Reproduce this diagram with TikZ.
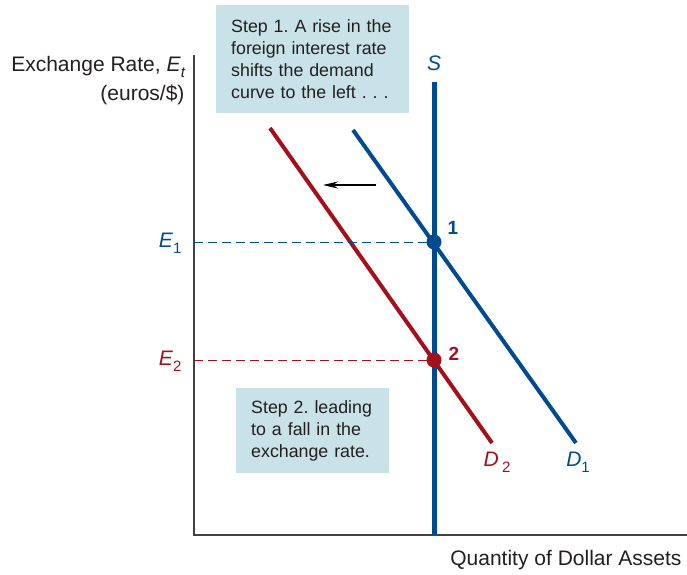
\documentclass[tikz,border=0pt]{standalone}
\usepackage{fontspec}
\setmainfont{Liberation Sans}
\usetikzlibrary{arrows.meta}
\definecolor{dblue}{RGB}{0,75,141}
\definecolor{dred}{RGB}{163,16,27}
\definecolor{boxfill}{RGB}{200,226,231}
\definecolor{txt}{RGB}{35,31,32}
\tikzset{
  stepbox/.style={fill=boxfill, inner xsep=15pt, inner ysep=0pt, align=left,
    font=\fontsize{17.8}{22}\selectfont\frenchspacing, text=txt, anchor=north west},
  axis/.style={line width=1.3pt, draw=txt!85},
  curve/.style={line width=4pt},
  dashline/.style={line width=1pt, dash pattern=on 9pt off 5pt},
  eqpt/.style={circle, inner sep=0pt, minimum size=15pt},
  lbl/.style={font=\fontsize{21}{24}\selectfont},
  numlbl/.style={font=\fontsize{19}{22}\selectfont\bfseries},
}
\newcommand{\sub}[1]{\raisebox{-0.55ex}{\fontsize{15}{16}\selectfont #1}}
\begin{document}
\begin{tikzpicture}[x=1pt,y=-1pt]
\useasboundingbox (0,0) rectangle (687,574);
% boxes
\node[stepbox, minimum width=193pt, minimum height=108pt, text width=163pt] (box1) at (216,5)
  {Step 1. A rise in the\\foreign interest rate\\shifts the demand\\curve to the left . . .};
\node[stepbox, minimum width=153pt, minimum height=85pt, text width=123pt] (box2) at (236,388)
  {Step 2. leading\\to a fall in the\\exchange rate.};
% axes
\coordinate (O) at (194,535);
\coordinate (ytop) at (194,55);
\coordinate (xend) at (687,535);
\draw[axis] (ytop) -- (O) -- (xend);
\node[lbl, anchor=east, text=txt] (ylab1) at (189,67) {Exchange Rate, \textit{E}\sub{\textit{t}}};
\node[lbl, anchor=east, text=txt] (ylab2) at (188,95) {(euros/\$)};
\node[lbl, anchor=east, text=txt] (xlab) at (685,560) {Quantity of Dollar Assets};
% demand curves
\coordinate (d1a) at (353,130);
\coordinate (d1b) at (576,443);
\coordinate (d2a) at (270,128);
\coordinate (d2b) at (492,443);
\draw[curve, dred] (d2a) -- (d2b);
\draw[curve, dblue] (d1a) -- (d1b);
% supply
\coordinate (stop) at (434,82);
\coordinate (sbot) at (434,535);
\draw[line width=5pt, dblue] (stop) -- (sbot);
\node[lbl, text=dblue] (slab) at (434,63) {\textit{S}};
% equilibrium points
\node[eqpt, fill=dblue] (p1) at (434,242) {};
\node[eqpt, fill=dred] (p2) at (434,360) {};
\node[numlbl, text=dblue] (n1) at (453,228) {1};
\node[numlbl, text=dred] (n2) at (454,354) {2};
% dashed lines
\coordinate (e1) at (194,242);
\coordinate (e2) at (194,360);
\draw[dashline, dblue] (e1) -- (p1.center);
\draw[dashline, dred] (e2) -- (p2.center);
\node[lbl, text=dblue, anchor=east] (e1lab) at (185,243) {\textit{E}\sub{1}};
\node[lbl, text=dred, anchor=east] (e2lab) at (185,361) {\textit{E}\sub{2}};
% curve labels
\node[lbl, text=dred] (d2lab) at (497,462) {\textit{D}\,\sub{2}};
\node[lbl, text=dblue] (d1lab) at (578,462) {\textit{D}\sub{1}};
% shift arrow
\coordinate (arrs) at (376,185);
\coordinate (arre) at (323,185);
\draw[line width=1.2pt, -{Stealth[length=15pt,width=7pt]}] (arrs) -- (arre);
\end{tikzpicture}
\end{document}
